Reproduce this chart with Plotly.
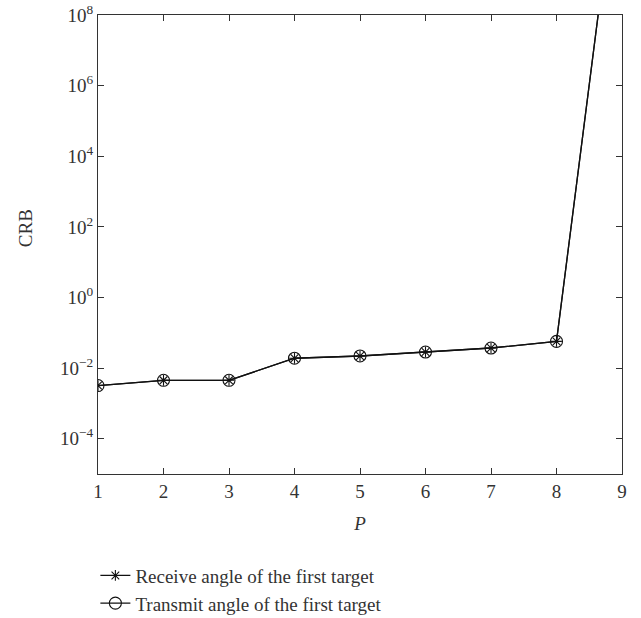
import plotly.graph_objects as go

P = [1, 2, 3, 4, 5, 6, 7, 8, 9]
crb_receive = [3.2e-3, 4.5e-3, 4.5e-3, 1.9e-2, 2.2e-2, 2.85e-2, 3.7e-2, 5.7e-2, 2e13]
crb_transmit = [3.2e-3, 4.5e-3, 4.5e-3, 1.9e-2, 2.2e-2, 2.85e-2, 3.7e-2, 5.7e-2, 2e13]
names = ["Receive angle of the first target", "Transmit angle of the first target"]
y_ticks = [1e-4, 1e-2, 1e0, 1e2, 1e4, 1e6, 1e8]
y_tick_text = ["10<sup>\u22124</sup>", "10<sup>\u22122</sup>", "10<sup>0</sup>", "10<sup>2</sup>",
               "10<sup>4</sup>", "10<sup>6</sup>", "10<sup>8</sup>"]

FONT = "Liberation Serif, Times New Roman, serif"
fig = go.Figure()
fig.add_trace(go.Scatter(x=P, y=crb_receive, name=names[0], mode="lines+markers",
                         line=dict(color="#111", width=1.3),
                         marker=dict(symbol="asterisk-open", size=9, color="#111",
                                     line=dict(color="#111", width=1.1))))
fig.add_trace(go.Scatter(x=P, y=crb_transmit, name=names[1], mode="lines+markers",
                         line=dict(color="#111", width=1.3),
                         marker=dict(symbol="circle-open", size=12, color="#111",
                                     line=dict(color="#111", width=1.1))))

axis_common = dict(showline=True, linecolor="#333", linewidth=1, mirror="ticks",
                   ticks="inside", ticklen=6, tickcolor="#333", showgrid=False,
                   zeroline=False, automargin=False, ticklabeloverflow="allow",
                   tickfont=dict(family=FONT, size=19, color="#333"))
fig.update_layout(
    width=641, height=618,
    margin=dict(l=97.5, r=18.7, t=15, b=143.7, autoexpand=False),
    paper_bgcolor="white", plot_bgcolor="white",
    font=dict(family=FONT, color="#333"),
    xaxis=dict(range=[1, 9], dtick=1, tick0=1,
               title=dict(text="<i>P</i>", font=dict(family=FONT, size=19, color="#333"), standoff=15),
               **axis_common),
    yaxis=dict(type="log", range=[-5, 8], tickvals=y_ticks, ticktext=y_tick_text,
               **axis_common),
    annotations=[dict(text="CRB", textangle=-90, xref="paper", yref="paper",
                      x=-0.137, y=0.536, xanchor="center", yanchor="middle",
                      showarrow=False, font=dict(family=FONT, size=19, color="#333"))],
    showlegend=True,
    legend=dict(x=-0.005, y=-0.18, xanchor="left", yanchor="top",
                font=dict(family=FONT, size=19, color="#333"),
                bgcolor="rgba(0,0,0,0)", tracegroupgap=0, itemsizing="trace"),
)
fig.write_html("out.html", config={"displayModeBar": False},
               post_script="document.body.style.margin='0';")
